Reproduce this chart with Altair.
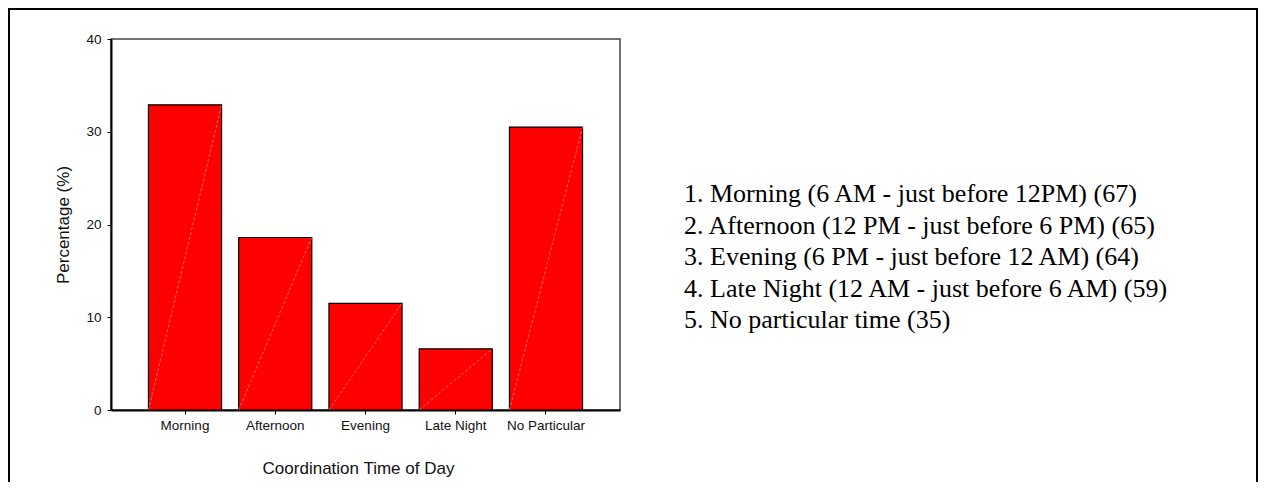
import altair as alt
import pandas as pd

categories = ["Morning", "Afternoon", "Evening", "Late Night", "No Particular"]
percent = [32.9, 18.6, 11.5, 6.6, 30.5]
y_ticks = [0, 10, 20, 30, 40]
legend_lines = [
    "1. Morning (6 AM - just before 12PM) (67)",
    "2. Afternoon (12 PM - just before 6 PM) (65)",
    "3. Evening (6 PM - just before 12 AM) (64)",
    "4. Late Night (12 AM - just before 6 AM) (59)",
    "5. No particular time (35)",
]

df = pd.DataFrame({"cat": categories, "pct": percent})
one = pd.DataFrame({"k": [0]})

W, H = 509, 371

xscale = alt.Scale(domain=categories, paddingInner=0.19, paddingOuter=0.415)
yscale = alt.Scale(domain=[0, 40], nice=False)

common_axis = dict(
    domainColor="black", domainWidth=2, tickColor="black", tickWidth=1,
    labelColor="#111111", titleColor="#111111", labelFont="Liberation Sans",
    titleFont="Liberation Sans", titleFontWeight="normal",
)

xaxis = alt.Axis(
    title="Coordination Time of Day", labelAngle=0, ticks=True, tickSize=4,
    labelPadding=4, titleX=247, titleY=63, titleAlign="center",
    titleBaseline="alphabetic", titleFontSize=17, labelFontSize=13.5,
    **common_axis,
)
yaxis = alt.Axis(
    title="Percentage (%)", values=y_ticks, tickSize=4, labelPadding=6,
    grid=False, titleX=-48, titleY=H / 2, titleAlign="center",
    titleBaseline="middle", titleAngle=270, titleFontSize=17, labelFontSize=13.5,
    **common_axis,
)

bars = alt.Chart(df).mark_bar(color="#ff0000", stroke="black", strokeWidth=1.2).encode(
    x=alt.X("cat:N", scale=xscale, axis=xaxis, sort=categories),
    y=alt.Y("pct:Q", scale=yscale, axis=yaxis),
)

diag = alt.Chart(df).transform_calculate(zero="0").mark_rule(
    stroke="#ffd0d0", strokeWidth=0.6, strokeDash=[3, 2], opacity=0.85
).encode(
    x=alt.X("cat:N", scale=xscale, bandPosition=0, sort=categories),
    x2=alt.X2("cat", bandPosition=1),
    y=alt.Y("zero:Q", scale=yscale),
    y2=alt.Y2("pct"),
)

legend = alt.Chart(one).mark_text(
    align="left", baseline="top", font="Liberation Serif", fontSize=26,
    lineHeight=31.5, color="black",
).encode(text=alt.value(legend_lines), x=alt.value(573), y=alt.value(142))

border = alt.Chart(one).mark_rect(
    fill="white", fillOpacity=0, stroke="black", strokeWidth=2,
).encode(x=alt.value(-102), x2=alt.value(1146), y=alt.value(-30), y2=alt.value(600))

chart = alt.layer(bars, diag, legend, border).properties(
    width=W, height=H,
    autosize=alt.AutoSizeParams(type="none"),
    padding={"left": 103, "top": 31, "right": 638, "bottom": 72},
    background="white",
).configure_view(
    stroke="#444444", strokeWidth=1.5,
)

chart.save("out.html", embed_options={"renderer": "svg", "actions": False})
